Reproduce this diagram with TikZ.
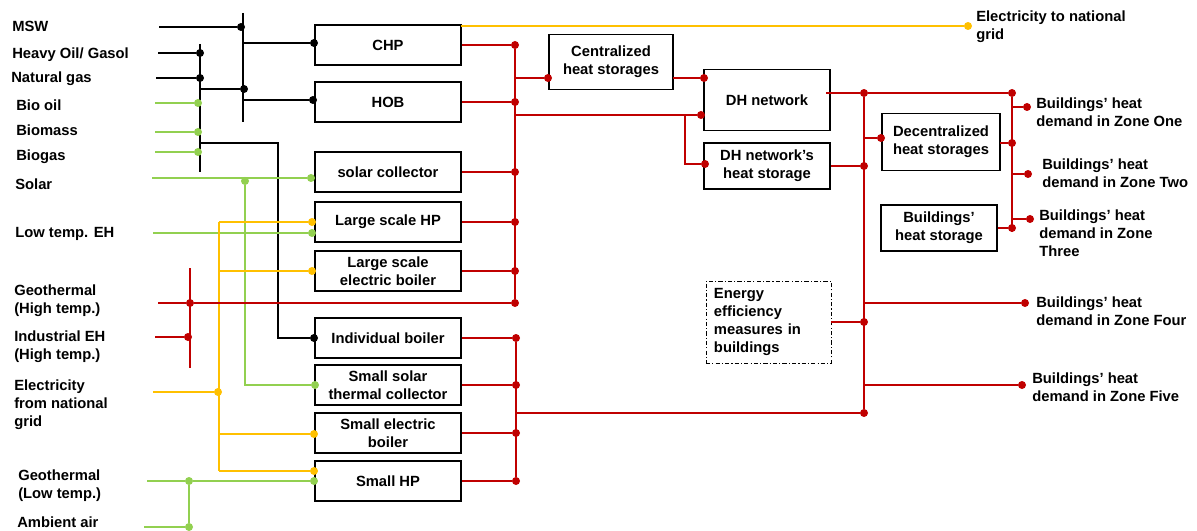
\documentclass[tikz,border=0pt]{standalone}
\usepackage{fontspec}
\setmainfont{Liberation Sans}
\usetikzlibrary{positioning}

\definecolor{heatred}{RGB}{192,0,0}
\definecolor{elecyellow}{RGB}{255,192,0}
\definecolor{fuelgreen}{RGB}{146,208,80}

\begin{document}
\begin{tikzpicture}[
    x=0.025cm, y=-0.025cm,
    every node/.style={font=\bfseries\fontsize{10.5}{12.8}\selectfont},
    tech/.style={draw, line width=1.3pt, minimum width=3.65cm, minimum height=1.02cm, align=center, inner sep=1pt},
    effbox/.style={draw, line width=0.6pt, dash pattern=on 3pt off 1.5pt on 0.8pt off 1.5pt,
        text width=2.725cm, inner xsep=0.2cm, minimum height=2.05cm, align=left},
    txt/.style={anchor=west, align=left, inner sep=0pt},
    dot/.style={circle, inner sep=0pt, minimum size=0.2cm},
    kdot/.style={dot, fill=black},
    gdot/.style={dot, fill=fuelgreen},
    ydot/.style={dot, fill=elecyellow},
    rdot/.style={dot, fill=heatred},
    kline/.style={draw=black, line width=1.1pt},
    gline/.style={draw=fuelgreen, line width=1.1pt},
    yline/.style={draw=elecyellow, line width=1.1pt},
    rline/.style={draw=heatred, line width=1.1pt},
]
\useasboundingbox (0,0) rectangle (1197,531);

  % SOURCES
  \node[txt] (msw) at (12,26) {MSW};
  \node[txt] (oil) at (12,55) {Heavy Oil/ Gasol};
  \node[txt] (gas) at (11,79) {Natural gas};
  \node[txt] (biooil) at (16,105) {Bio oil};
  \node[txt] (biomass) at (16,130) {Biomass};
  \node[txt] (biogas) at (16,157) {Biogas};
  \node[txt] (solar) at (15,184) {Solar};
  \node[txt] (loweh) at (15,234) {Low temp. EH};
  \node[txt] (geohigh) at (14,301) {Geothermal\\(High temp.)};
  \node[txt] (indeh) at (14,347) {Industrial EH\\(High temp.)};
  \node[txt] (elecin) at (14,405) {Electricity\\from national\\grid};
  \node[txt] (geolow) at (18,486) {Geothermal\\(Low temp.)};
  \node[txt] (ambient) at (17,522) {Ambient air};

  % TECHNOLOGIES
  \node[tech] (chp) at (388,45) {CHP};
  \node[tech] (hob) at (388,102) {HOB};
  \node[tech] (solcol) at (388,172) {solar collector};
  \node[tech] (lhp) at (388,222) {Large scale HP};
  \node[tech] (leb) at (388,271) {Large scale\\electric boiler};
  \node[tech] (indb) at (388,338) {Individual boiler};
  \node[tech] (sstc) at (388,385) {Small solar\\thermal collector};
  \node[tech] (seb) at (388,433) {Small electric\\boiler};
  \node[tech] (shp) at (388,481) {Small HP};

  \node[tech, minimum width=3.1cm, minimum height=1.375cm] (chs) at (611,62) {Centralized\\heat storages};
  \node[tech, minimum width=3.15cm, minimum height=1.525cm] (dh) at (767,100) {DH network};
  \node[tech, minimum width=3.15cm, minimum height=1.15cm] (dhs) at (767,166) {DH network’s\\heat storage};
  \node[tech, minimum width=2.95cm, minimum height=1.425cm] (dcs) at (941,142) {Decentralized\\heat storages};
  \node[tech, minimum width=2.9cm, minimum height=1.15cm] (bhs) at (939,228) {Buildings’\\heat storage};
  \node[effbox] (eem) at (768.5,322) {Energy\\efficiency\\measures in\\buildings};

  % DEMANDS
  \node[txt] (elecout) at (976,27) {Electricity to national\\grid};
  \node[txt] (zone1) at (1036,112) {Buildings’ heat\\demand in Zone One};
  \node[txt] (zone2) at (1042,173) {Buildings’ heat\\demand in Zone Two};
  \node[txt] (zone3) at (1039,233) {Buildings’ heat\\demand in Zone\\Three};
  \node[txt] (zone4) at (1036,311) {Buildings’ heat\\demand in Zone Four};
  \node[txt] (zone5) at (1032,387) {Buildings’ heat\\demand in Zone Five};

  % fuels (black)
  \coordinate (msw-in) at (159,27);
  \coordinate (oil-in) at (158,53);
  \coordinate (gas-in) at (156,78);
  \coordinate (kbus1-top) at (243,13);
  \coordinate (kbus1-bot) at (243,122);
  \coordinate (kbus1-chp) at (243,43);
  \coordinate (kbus1-hob) at (243,100);
  \coordinate (kbus2-top) at (200,44);
  \coordinate (kbus2-bot) at (200,172);
  \coordinate (kbus2-mix) at (200,89);
  \coordinate (kbus2-ind) at (200,143);
  \coordinate (kbend1) at (278,143);
  \coordinate (kbend2) at (278,338);
  \node[kdot] (k-msw) at (241,27) {};
  \node[kdot] (k-oil) at (200,53) {};
  \node[kdot] (k-gas) at (200,78) {};
  \node[kdot] (k-mix) at (244,89) {};
  \node[kdot] (k-chp) at (314,43) {};
  \node[kdot] (k-hob) at (313,100) {};
  \node[kdot] (k-ind) at (314,338) {};
  \draw[kline] (msw-in) -- (k-msw);
  \draw[kline] (oil-in) -- (k-oil);
  \draw[kline] (gas-in) -- (k-gas);
  \draw[kline] (kbus1-top) -- (kbus1-bot);
  \draw[kline] (kbus2-top) -- (kbus2-bot);
  \draw[kline] (kbus2-mix) -- (k-mix);
  \draw[kline] (kbus1-chp) -- (k-chp);
  \draw[kline] (kbus1-hob) -- (k-hob);
  \draw[kline] (kbus2-ind) -- (kbend1) -- (kbend2) -- (k-ind);

  % renewables (green)
  \coordinate (biooil-in) at (155,103);
  \coordinate (biomass-in) at (155,132);
  \coordinate (biogas-in) at (155,152);
  \coordinate (solar-in) at (152,178);
  \coordinate (loweh-in) at (153,233);
  \coordinate (geolow-in) at (147,481);
  \coordinate (ambient-in) at (144,527);
  \coordinate (gbend1) at (245,385);
  \node[gdot] (g-biooil) at (198,103) {};
  \node[gdot] (g-biomass) at (198,132) {};
  \node[gdot] (g-biogas) at (198,152) {};
  \node[gdot] (g-solar) at (245,181) {};
  \node[gdot] (g-solcol) at (311,178) {};
  \node[gdot] (g-sstc) at (315,385) {};
  \node[gdot] (g-lhp) at (312,233) {};
  \node[gdot] (g-geolow) at (189,481) {};
  \node[gdot] (g-ambient) at (189,527) {};
  \node[gdot] (g-shp) at (314,481) {};
  \draw[gline] (biooil-in) -- (g-biooil);
  \draw[gline] (biomass-in) -- (g-biomass);
  \draw[gline] (biogas-in) -- (g-biogas);
  \draw[gline] (solar-in) -- (g-solcol);
  \draw[gline] (g-solar) -- (gbend1) -- (g-sstc);
  \draw[gline] (loweh-in) -- (g-lhp);
  \draw[gline] (geolow-in) -- (g-geolow) -- (g-shp);
  \draw[gline] (ambient-in) -- (g-ambient);
  \draw[gline] (g-geolow) -- (g-ambient);

  % electricity (yellow)
  \coordinate (ybus-top) at (219,222);
  \coordinate (ybus-bot) at (219,471);
  \coordinate (ybus-leb) at (219,271);
  \coordinate (ybus-seb) at (219,434);
  \coordinate (elecin-in) at (153,392);
  \coordinate (chp-el) at (461,26);
  \node[ydot] (y-lhp) at (312,222) {};
  \node[ydot] (y-leb) at (312,271) {};
  \node[ydot] (y-elecin) at (218,392) {};
  \node[ydot] (y-seb) at (314,434) {};
  \node[ydot] (y-shp) at (314,471) {};
  \node[ydot] (y-elecout) at (968,26) {};
  \draw[yline] (ybus-top) -- (ybus-bot);
  \draw[yline] (ybus-top) -- (y-lhp);
  \draw[yline] (ybus-leb) -- (y-leb);
  \draw[yline] (elecin-in) -- (y-elecin);
  \draw[yline] (ybus-seb) -- (y-seb);
  \draw[yline] (ybus-bot) -- (y-shp);
  \draw[yline] (chp-el) -- (y-elecout);

  % heat (red)
  \coordinate (geohigh-in) at (158,303);
  \coordinate (indeh-in) at (155,337);
  \coordinate (rbus0-top) at (190,268);
  \coordinate (rbus0-bot) at (190,368);
  \coordinate (rbus-chs) at (515,78);
  \coordinate (rbus-dh) at (515,115);
  \coordinate (chs-out) at (673,78);
  \coordinate (rbend1) at (685,115);
  \coordinate (rbend2) at (685,164);
  \coordinate (dh-out) at (826,93);
  \coordinate (rhub-dcs) at (864,138);
  \coordinate (dcs-out) at (1000,143);
  \coordinate (rbus3-z1) at (1012,107);
  \coordinate (rbus3-z2) at (1012,174);
  \coordinate (rbus3-z3) at (1012,219);
  \coordinate (rbus3-bot) at (1012,232);
  \coordinate (rhub-z4) at (864,303);
  \coordinate (rhub-z5) at (864,385);
  \coordinate (rbus2-mid) at (516,413);
  \node[rdot] (r-geohigh) at (190,303) {};
  \node[rdot] (r-indeh) at (188,337) {};
  \node[rdot] (r-chp) at (515,45) {};
  \node[rdot] (r-hob) at (515,102) {};
  \node[rdot] (r-solcol) at (515,172) {};
  \node[rdot] (r-lhp) at (515,222) {};
  \node[rdot] (r-leb) at (515,271) {};
  \node[rdot] (r-geo) at (515,303) {};
  \node[rdot] (r-chs) at (548,78) {};
  \node[rdot] (r-dh1) at (704,78) {};
  \node[rdot] (r-dh2) at (701,115) {};
  \node[rdot] (r-dhs) at (705,164) {};
  \node[rdot] (r-hub) at (864,93) {};
  \node[rdot] (r-top) at (1012,93) {};
  \node[rdot] (r-dhs2) at (864,166) {};
  \node[rdot] (r-dcs) at (881,138) {};
  \node[rdot] (r-dcs2) at (1012,143) {};
  \node[rdot] (r-bhs) at (1012,228) {};
  \node[rdot] (r-z1) at (1027,107) {};
  \node[rdot] (r-z2) at (1028,174) {};
  \node[rdot] (r-z3) at (1030,219) {};
  \node[rdot] (r-z4) at (1025,303) {};
  \node[rdot] (r-eem) at (864,322) {};
  \node[rdot] (r-z5) at (1022,385) {};
  \node[rdot] (r-low) at (864,413) {};
  \node[rdot] (r-indb) at (516,338) {};
  \node[rdot] (r-sstc) at (516,385) {};
  \node[rdot] (r-seb) at (516,433) {};
  \node[rdot] (r-shp) at (516,481) {};
  \draw[rline] (rbus0-top) -- (rbus0-bot);
  \draw[rline] (geohigh-in) -- (r-geohigh) -- (r-geo);
  \draw[rline] (indeh-in) -- (r-indeh);
  \draw[rline] (r-chp) -- (r-geo);
  \draw[rline] (chp.east) -- (r-chp);
  \draw[rline] (hob.east) -- (r-hob);
  \draw[rline] (solcol.east) -- (r-solcol);
  \draw[rline] (lhp.east) -- (r-lhp);
  \draw[rline] (leb.east) -- (r-leb);
  \draw[rline] (rbus-chs) -- (r-chs);
  \draw[rline] (chs-out) -- (r-dh1);
  \draw[rline] (rbus-dh) -- (r-dh2);
  \draw[rline] (rbend1) -- (rbend2) -- (r-dhs);
  \draw[rline] (dh-out) -- (r-hub) -- (r-top);
  \draw[rline] (r-hub) -- (r-low);
  \draw[rline] (dhs.east) -- (r-dhs2);
  \draw[rline] (rhub-dcs) -- (r-dcs);
  \draw[rline] (dcs-out) -- (r-dcs2);
  \draw[rline] (r-top) -- (rbus3-bot);
  \draw[rline] (rbus3-z1) -- (r-z1);
  \draw[rline] (rbus3-z2) -- (r-z2);
  \draw[rline] (rbus3-z3) -- (r-z3);
  \draw[rline] (bhs.east) -- (r-bhs);
  \draw[rline] (rhub-z4) -- (r-z4);
  \draw[rline] (eem.east) -- (r-eem);
  \draw[rline] (rhub-z5) -- (r-z5);
  \draw[rline] (r-indb) -- (r-shp);
  \draw[rline] (indb.east) -- (r-indb);
  \draw[rline] (sstc.east) -- (r-sstc);
  \draw[rline] (seb.east) -- (r-seb);
  \draw[rline] (shp.east) -- (r-shp);
  \draw[rline] (rbus2-mid) -- (r-low);
  % end of the network

\end{tikzpicture}
\end{document}
